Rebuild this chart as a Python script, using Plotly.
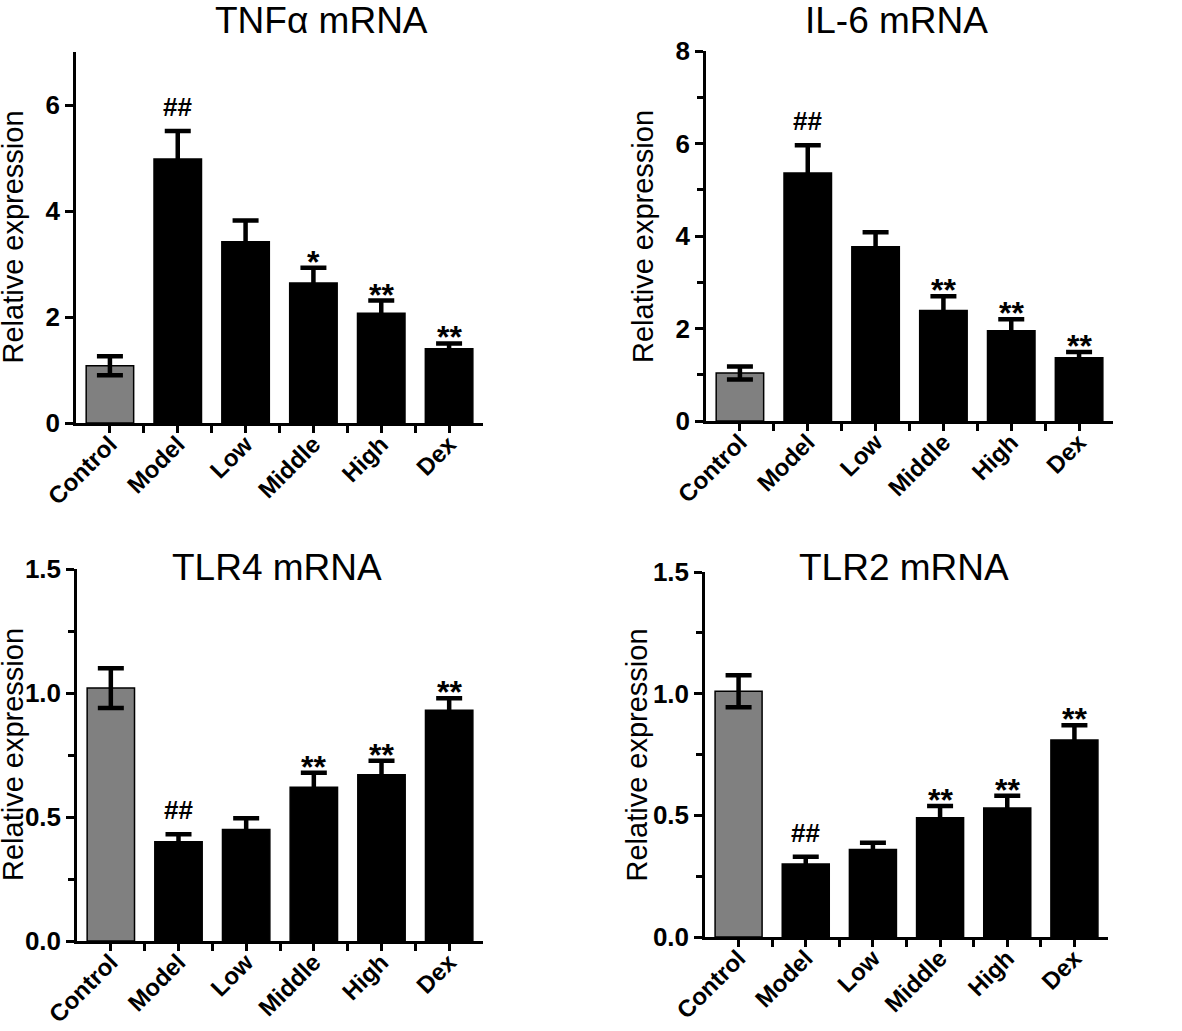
import plotly.graph_objects as go

categories = ["Control", "Model", "Low", "Middle", "High", "Dex"]

tnf_mean = [1.08, 4.98, 3.42, 2.64, 2.07, 1.40]
tnf_sem = [0.18, 0.53, 0.40, 0.29, 0.24, 0.10]
tnf_marks = ["", "##", "", "*", "**", "**"]

il6_mean = [1.04, 5.36, 3.77, 2.39, 1.95, 1.37]
il6_sem = [0.14, 0.60, 0.31, 0.31, 0.25, 0.12]
il6_marks = ["", "##", "", "**", "**", "**"]

tlr4_mean = [1.02, 0.40, 0.45, 0.62, 0.67, 0.93]
tlr4_sem = [0.08, 0.03, 0.045, 0.058, 0.057, 0.049]
tlr4_marks = ["", "##", "", "**", "**", "**"]

tlr2_mean = [1.01, 0.30, 0.36, 0.49, 0.53, 0.81]
tlr2_sem = [0.066, 0.03, 0.027, 0.048, 0.05, 0.06]
tlr2_marks = ["", "##", "", "**", "**", "**"]

W, H = 1182, 1031

panels = [
    dict(title="TNFα mRNA", mean=tnf_mean, sem=tnf_sem, marks=tnf_marks,
         ymax=7, dtick=2, minor=None, px=(76, 483), py=(52, 423),
         title_xy=(321, 21), ylab_x=13, fmt=None),
    dict(title="IL-6 mRNA", mean=il6_mean, sem=il6_sem, marks=il6_marks,
         ymax=8, dtick=2, minor=1, px=(706, 1113), py=(51, 421),
         title_xy=(896, 21), ylab_x=643, fmt=None),
    dict(title="TLR4 mRNA", mean=tlr4_mean, sem=tlr4_sem, marks=tlr4_marks,
         ymax=1.5, dtick=0.5, minor=0.25, px=(77, 483), py=(569, 941),
         title_xy=(277, 567), ylab_x=13, fmt=".1f"),
    dict(title="TLR2 mRNA", mean=tlr2_mean, sem=tlr2_sem, marks=tlr2_marks,
         ymax=1.5, dtick=0.5, minor=0.25, px=(705, 1108), py=(572, 937),
         title_xy=(904, 567), ylab_x=636, fmt=".1f"),
]


def fx(v):
    return v / W


def fy(v):
    return 1 - v / H


fig = go.Figure()
annotations = []
xs = list(range(len(categories)))
bar_colors = ["#808080"] + ["#000000"] * (len(categories) - 1)

for i, p in enumerate(panels):
    k = "" if i == 0 else str(i + 1)
    xa, ya = "x" + k, "y" + k
    fig.add_trace(go.Bar(
        x=xs, y=p["mean"], xaxis=xa, yaxis=ya, width=0.7,
        marker=dict(color=bar_colors, line=dict(color="#000000", width=1.5)),
        error_y=dict(type="data", array=p["sem"], visible=True,
                     color="#000000", thickness=4.5, width=13),
        showlegend=False,
    ))
    xd = [fx(p["px"][0]), fx(p["px"][1])]
    yd = [fy(p["py"][1]), fy(p["py"][0])]
    yaxis = dict(domain=yd, anchor=xa, range=[0, p["ymax"]], dtick=p["dtick"],
                 tick0=0, showgrid=False, zeroline=False, showline=True,
                 automargin=False,
                 linecolor="#000000", linewidth=2.5, ticks="outside",
                 ticklen=8, tickwidth=2.5, tickcolor="#000000",
                 tickfont=dict(family="Liberation Sans", size=26,
                               color="#000000", weight="bold"))
    if p["fmt"]:
        yaxis["tickformat"] = p["fmt"]
    if p["minor"]:
        yaxis["minor"] = dict(dtick=p["minor"], tick0=0, ticks="outside",
                              ticklen=6, tickwidth=2.5, tickcolor="#000000")
    xaxis = dict(domain=xd, anchor=ya, range=[-0.5, 5.5],
                 tickmode="array", tickvals=xs, ticktext=categories,
                 tickangle=-45, showgrid=False, zeroline=False, showline=True,
                 automargin=False, ticklabelstandoff=-12,
                 linecolor="#000000", linewidth=2.5, ticks="outside",
                 ticklen=7, tickwidth=2.5, tickcolor="#000000",
                 tickfont=dict(family="Liberation Sans", size=24,
                               color="#000000", weight="bold"),
                 minor=dict(tickmode="array",
                            tickvals=[v + 0.5 for v in xs[:-1]],
                            ticks="outside", ticklen=7, tickwidth=2.5,
                            tickcolor="#000000"))
    fig.update_layout(**{"xaxis" + k: xaxis, "yaxis" + k: yaxis})

    # title
    annotations.append(dict(text=p["title"], x=fx(p["title_xy"][0]),
                            y=fy(p["title_xy"][1]), xref="paper", yref="paper",
                            xanchor="center", yanchor="middle", showarrow=False,
                            font=dict(family="Liberation Sans", size=37, color="#000000")))
    # y label
    annotations.append(dict(text="Relative expression", x=fx(p["ylab_x"]),
                            y=(yd[0] + yd[1]) / 2, xref="paper", yref="paper",
                            xanchor="center", yanchor="middle", textangle=-90,
                            showarrow=False,
                            font=dict(family="Liberation Sans", size=29, color="#000000")))
    # significance marks
    for j, m in enumerate(p["marks"]):
        if not m:
            continue
        star = m.startswith("*")
        annotations.append(dict(text=m, x=j, y=p["mean"][j] + p["sem"][j],
                                xref=xa, yref=ya, xanchor="center", yanchor="bottom",
                                yshift=-14 if star else 7, showarrow=False,
                                font=dict(family="Liberation Sans",
                                          size=32 if star else 26,
                                          color="#000000", weight="bold")))

fig.update_layout(width=W, height=H, margin=dict(l=0, r=0, t=0, b=0),
                  paper_bgcolor="#ffffff", plot_bgcolor="#ffffff",
                  bargap=0.3, annotations=annotations)

fig.write_html("out.html",
               config={"displayModeBar": False},
               post_script="document.body.style.margin='0px';"
                           "document.body.style.padding='0px';"
                           "document.body.style.overflow='hidden';")
